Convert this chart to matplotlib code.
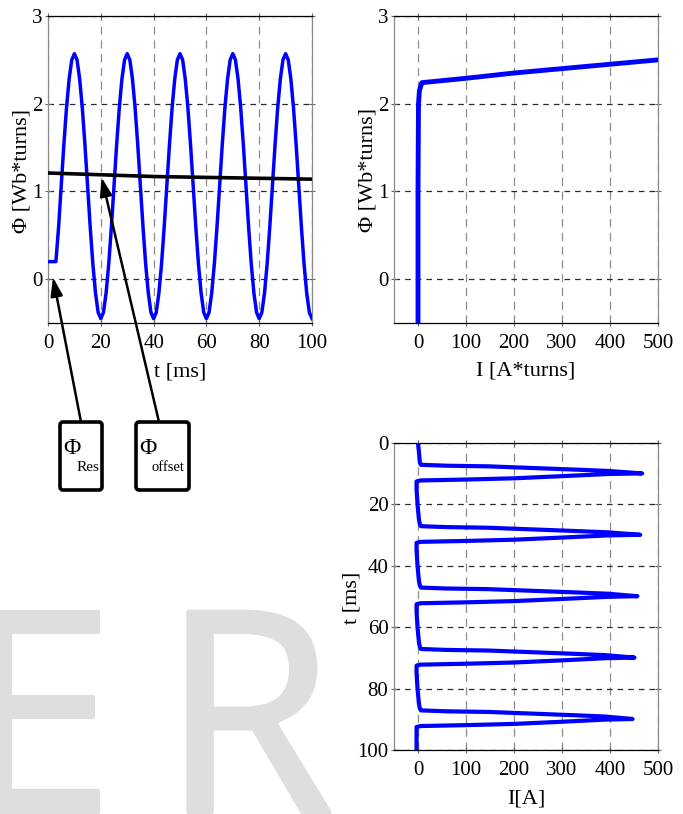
import matplotlib
matplotlib.use('Agg')
import matplotlib.pyplot as plt
import matplotlib.patheffects as pe
from matplotlib.patches import FancyBboxPatch
from matplotlib.transforms import IdentityTransform

W, H, DPI = 683, 814, 100

# ---------------- data ----------------
# top-left: flux linkage vs time
t_ms = list(range(0, 101))
phi_t = [0.20, 0.20, 0.20, 0.20, 0.59, 1.06, 1.53, 1.95, 2.28, 2.50, 2.57,
         2.50, 2.28, 1.95, 1.53, 1.06, 0.59, 0.17, -0.16, -0.38, -0.45,
         -0.38, -0.16, 0.17, 0.59, 1.06, 1.53, 1.95, 2.28, 2.50, 2.57,
         2.50, 2.28, 1.95, 1.53, 1.06, 0.59, 0.17, -0.16, -0.38, -0.45,
         -0.38, -0.16, 0.17, 0.59, 1.06, 1.53, 1.95, 2.28, 2.50, 2.57,
         2.50, 2.28, 1.95, 1.53, 1.06, 0.59, 0.17, -0.16, -0.38, -0.45,
         -0.38, -0.16, 0.17, 0.59, 1.06, 1.53, 1.95, 2.28, 2.50, 2.57,
         2.50, 2.28, 1.95, 1.53, 1.06, 0.59, 0.17, -0.16, -0.38, -0.45,
         -0.38, -0.16, 0.17, 0.59, 1.06, 1.53, 1.95, 2.28, 2.50, 2.57,
         2.50, 2.28, 1.95, 1.53, 1.06, 0.59, 0.17, -0.16, -0.38, -0.45]
t_offset = [0, 20, 40, 60, 80, 100]
phi_offset = [1.21, 1.19, 1.17, 1.16, 1.15, 1.14]

# top-right: flux linkage vs ampere-turns
I_turns = [0, 0, 1, 3, 8, 100, 200, 300, 400, 500]
phi_I = [-0.5, 1.0, 2.0, 2.15, 2.24, 2.29, 2.35, 2.40, 2.45, 2.50]

# bottom-right: current vs time
t_cur = [0, 3, 6.5, 7.1, 7.4, 7.6, 8.7, 9.1, 9.9, 10.1, 10.8, 11.5, 11.9, 12.2, 12.5,
         15, 20, 25, 26.5, 27.1, 27.4, 27.6, 28.7, 29.1, 29.9, 30.1, 30.8, 31.5, 31.9, 32.2, 32.5,
         35, 40, 45, 46.5, 47.1, 47.4, 47.6, 48.7, 49.1, 49.9, 50.1, 50.8, 51.5, 51.9, 52.2, 52.5,
         55, 60, 65, 66.5, 67.1, 67.4, 67.6, 68.7, 69.1, 69.9, 70.1, 70.8, 71.5, 71.9, 72.2, 72.5,
         75, 80, 85, 86.5, 87.1, 87.4, 87.6, 88.7, 89.1, 89.9, 90.1, 90.8, 91.5, 91.9, 92.2, 92.5,
         95, 100]
I_cur = [0, 2, 4, 6, 60, 146, 333, 396, 467, 396, 300, 200, 100, 5, -3,
         -3, -1, 2, 4, 6, 60, 146, 333, 396, 463, 396, 300, 200, 100, 5, -3,
         -3, -1, 2, 4, 6, 60, 146, 333, 396, 457, 396, 300, 200, 100, 5, -3,
         -3, -1, 2, 4, 6, 60, 146, 330, 390, 451, 390, 300, 200, 100, 5, -3,
         -3, -1, 2, 4, 6, 60, 146, 330, 390, 447, 390, 300, 200, 100, 5, -3,
         -3, -3]

x_ticks_t = [0, 20, 40, 60, 80, 100]
y_ticks_phi = [0, 1, 2, 3]
x_ticks_I = [0, 100, 200, 300, 400, 500]
y_ticks_t = [0, 20, 40, 60, 80, 100]

# ---------------- figure ----------------
plt.rcParams['font.family'] = ['Liberation Serif', 'DejaVu Serif']
plt.rcParams['font.size'] = 15

fig = plt.figure(figsize=(W / DPI, H / DPI), dpi=DPI)
fig.patch.set_facecolor('white')


def fx(px):
    return px / W


def fy(py):
    return 1 - py / H


def make_ax(x0, y0, x1, y1):
    return fig.add_axes([fx(x0), fy(y1), (x1 - x0) / W, (y1 - y0) / H])


def style(ax):
    ax.set_axisbelow(True)
    ax.xaxis.grid(True, color='#8c8c8c', linestyle=(0, (6.5, 4.5)), linewidth=0.9)
    ax.yaxis.grid(True, color='#2a2a2a', linestyle=(0, (4.5, 4)), linewidth=0.9)
    for s in ('top', 'bottom'):
        ax.spines[s].set_color('black')
        ax.spines[s].set_linewidth(0.9)
    for s in ('left', 'right'):
        ax.spines[s].set_color('#8a8a8a')
        ax.spines[s].set_linewidth(0.9)
    ax.tick_params(direction='inout', length=4, width=0.8, color='#666666',
                   labelsize=15, top=True, right=True)
    ax.tick_params(axis='x', pad=6)
    ax.tick_params(axis='y', pad=2)


# watermark
wm_color = '#dedede'
wm_fx = [pe.withStroke(linewidth=3, foreground=wm_color)]
fig.text(fx(-41), fy(812), 'E', fontsize=202, family='Open Sans',
         color=wm_color, ha='left', va='baseline', zorder=0, path_effects=wm_fx)
fig.text(fx(161), fy(812), 'R', fontsize=202, family='Open Sans',
         color=wm_color, ha='left', va='baseline', zorder=0, path_effects=wm_fx)

# top-left
ax1 = make_ax(48, 16, 312, 323)
style(ax1)
ax1.plot(t_ms, phi_t, color='#0000ff', lw=2.5, solid_joinstyle='round', zorder=3)
ax1.plot(t_offset, phi_offset, color='black', lw=2.6, zorder=4)
ax1.set_xlim(0, 100)
ax1.set_ylim(-0.5, 3)
ax1.set_xticks(x_ticks_t)
ax1.set_yticks(y_ticks_phi)
ax1.set_xlabel('t [ms]', fontsize=16)
ax1.set_ylabel('Φ [Wb*turns]', fontsize=16)
ax1.xaxis.set_label_coords(0.5, -0.13)
ax1.yaxis.label.set_va('center')
ax1.yaxis.set_label_coords(-0.097, 0.495)

# top-right
ax2 = make_ax(394, 16, 658, 323)
style(ax2)
ax2.plot(I_turns, phi_I, color='#0000ff', lw=3.5, solid_joinstyle='round', zorder=3)
ax2.set_xlim(-50, 500)
ax2.set_ylim(-0.5, 3)
ax2.set_xticks(x_ticks_I)
ax2.set_yticks(y_ticks_phi)
ax2.set_xlabel('I [A*turns]', fontsize=16)
ax2.set_ylabel('Φ [Wb*turns]', fontsize=16)
ax2.xaxis.set_label_coords(0.5, -0.125)
ax2.yaxis.label.set_va('center')
ax2.yaxis.set_label_coords(-0.099, 0.5)

# bottom-right
ax3 = make_ax(394, 443, 658, 750)
style(ax3)
ax3.plot(I_cur, t_cur, color='#0000ff', lw=3.0, solid_joinstyle='round', zorder=3)
ax3.set_xlim(-50, 500)
ax3.set_ylim(100, 0)
ax3.set_xticks(x_ticks_I)
ax3.set_yticks(y_ticks_t)
ax3.set_xlabel('I[A]', fontsize=16)
ax3.set_ylabel('t [ms]', fontsize=16)
ax3.xaxis.set_label_coords(0.5, -0.13)
ax3.yaxis.label.set_va('center')
ax3.yaxis.set_label_coords(-0.16, 0.495)

# annotation boxes (pixel layout)
for (x0, x1) in [(60, 102), (136, 189)]:
    box = FancyBboxPatch((x0, H - 490), x1 - x0, 490 - 422,
                         boxstyle='round,pad=0,rounding_size=3',
                         transform=IdentityTransform(), facecolor='white',
                         edgecolor='black', linewidth=2.6, zorder=5)
    fig.patches.append(box)
    box.set_figure(fig)

fig.text(fx(63), fy(448), 'Φ', fontsize=17, ha='left', va='center', zorder=6)
fig.text(fx(77), fy(467), 'Res', fontsize=11, ha='left', va='center', zorder=6)
fig.text(fx(139), fy(448), 'Φ', fontsize=17, ha='left', va='center', zorder=6)
fig.text(fx(151), fy(467), 'offset', fontsize=10.5, ha='left', va='center', zorder=6)

arrow_kw = dict(arrowstyle='-|>,head_length=0.55,head_width=0.18', color='black',
                lw=1.8, shrinkA=0, shrinkB=0, mutation_scale=20)
ax1.annotate('', xy=(1.9, 0.02), xycoords='data',
             xytext=(fx(81), fy(422)), textcoords='figure fraction',
             arrowprops=arrow_kw, annotation_clip=False, zorder=6)
ax1.annotate('', xy=(20.3, 1.16), xycoords='data',
             xytext=(fx(159), fy(422)), textcoords='figure fraction',
             arrowprops=arrow_kw, annotation_clip=False, zorder=6)

fig.savefig('out.png', dpi=DPI)
